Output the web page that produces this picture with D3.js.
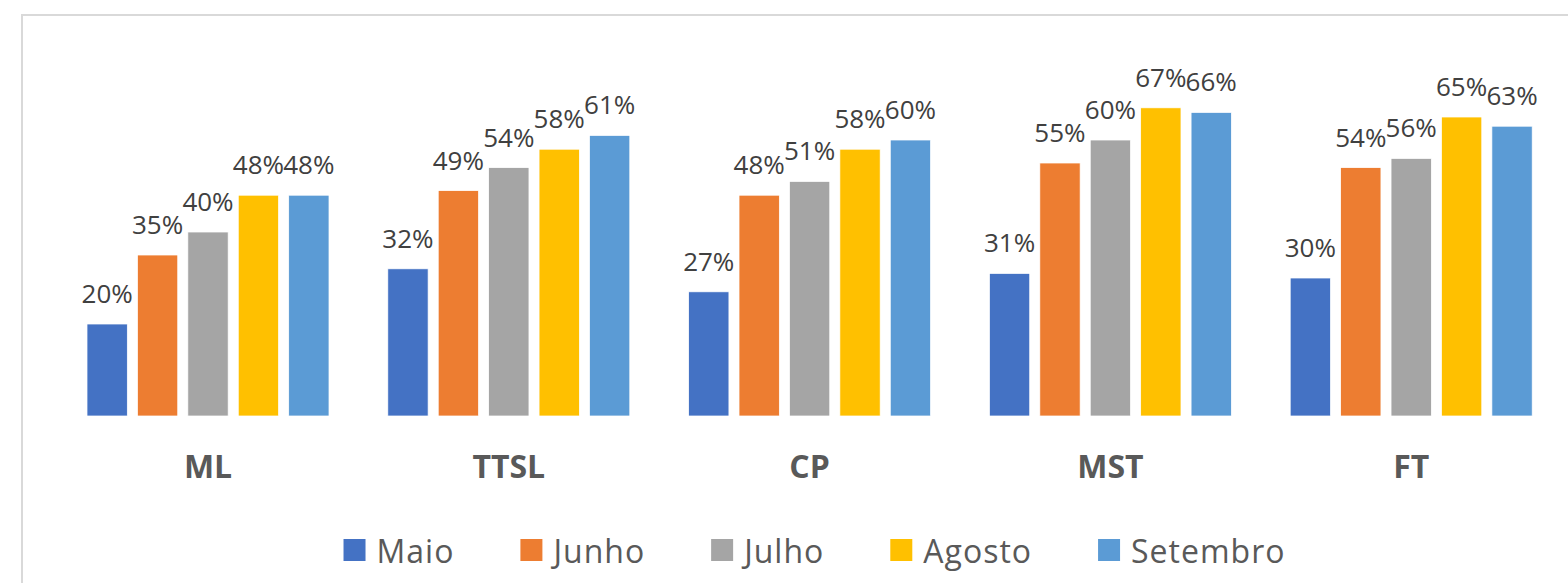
<!DOCTYPE html>
<html>
<head>
<meta charset="utf-8">
<script src="https://cdnjs.cloudflare.com/ajax/libs/d3/7.8.5/d3.min.js"></script>
<style>
  body { margin: 0; background: #fff; }
  svg { display: block; font-family: "Open Sans", "DejaVu Sans", sans-serif; }
</style>
</head>
<body>
<div id="chart"></div>
<script>
// chart data
var categories = ["ML", "TTSL", "CP", "MST", "FT"];
var months = ["Maio", "Junho", "Julho", "Agosto", "Setembro"];
var maio     = [0.20, 0.32, 0.27, 0.31, 0.30];
var junho    = [0.35, 0.49, 0.48, 0.55, 0.54];
var julho    = [0.40, 0.54, 0.51, 0.60, 0.56];
var agosto   = [0.48, 0.58, 0.58, 0.67, 0.65];
var setembro = [0.48, 0.61, 0.60, 0.66, 0.63];
var colors = ["#4472C4", "#ED7D31", "#A5A5A5", "#FFC000", "#5B9BD5"];

var series = [maio, junho, julho, agosto, setembro];

function drawChart() {
    var width = 1568, height = 583;
    var svg = d3.select("#chart").append("svg")
        .attr("width", width)
        .attr("height", height);

    // outer chart border (runs off right and bottom)
    svg.append("rect")
        .attr("x", 22).attr("y", 15)
        .attr("width", 1600).attr("height", 620)
        .attr("fill", "none")
        .attr("stroke", "#d9d9d9")
        .attr("stroke-width", 2);

    //scales
    var x0 = d3.scaleBand()
        .domain(categories)
        .range([57.6, 1561.6]);

    var x1 = d3.scaleBand()
        .domain(months)
        .range([0, x0.bandwidth()])
        .paddingInner(0.2)
        .paddingOuter(0.583);

    var y = d3.scaleLinear()
        .domain([0, 0.7])
        .range([416, 416 - 0.7 * 460]);

    var fmt = d3.format(".0%");

    // flatten to rows
    var rows = [];
    categories.forEach(function (c, i) {
        months.forEach(function (m, j) {
            rows.push({cat: c, month: m, idx: j, value: series[j][i]});
        });
    });

    //draw bars
    svg.append("g").selectAll("rect")
        .data(rows)
        .enter().append("rect")
        .attr("x", function (d) { return x0(d.cat) + x1(d.month); })
        .attr("y", function (d) { return y(d.value); })
        .attr("width", x1.bandwidth())
        .attr("height", function (d) { return y(0) - y(d.value); })
        .attr("fill", function (d) { return colors[d.idx]; })
        .attr("stroke", "#fff")
        .attr("stroke-width", 0.75);

    //data labels
    svg.append("g").selectAll("text")
        .data(rows)
        .enter().append("text")
        .attr("x", function (d) { return x0(d.cat) + x1(d.month) + x1.bandwidth() / 2; })
        .attr("y", function (d) { return y(d.value) - 21; })
        .attr("text-anchor", "middle")
        .attr("fill", "#404040")
        .attr("font-size", 26)
        .text(function (d) { return fmt(d.value); });

    // category axis labels
    var xAxis = d3.axisBottom(x0).tickSize(0).tickPadding(0);
    var axisG = svg.append("g")
        .attr("transform", "translate(0," + 478 + ")")
        .call(xAxis);
    axisG.select(".domain").remove();
    axisG.selectAll("text")
        .attr("dy", 0)
        .attr("y", 0)
        .attr("font-family", "'Open Sans', sans-serif")
        .attr("font-size", 32)
        .attr("font-weight", "bold")
        .attr("fill", "#595959");

    //legend
    var legend = svg.append("g");
    var items = legend.selectAll("g")
        .data(months)
        .enter().append("g");
    items.append("rect")
        .attr("width", 22).attr("height", 22)
        .attr("y", 539)
        .attr("fill", function (d, i) { return colors[i]; });
    items.append("text")
        .attr("x", 33)
        .attr("y", 563)
        .attr("font-size", 32)
        .attr("letter-spacing", 1)
        .attr("fill", "#595959")
        .text(function (d) { return d; });

    var pos = 0;
    items.each(function () {
        var g = d3.select(this);
        g.attr("transform", "translate(" + pos + ",0)");
        pos += 33 + g.select("text").node().getComputedTextLength() + 66;
    });
    var total = pos - 66;
    legend.attr("transform", "translate(" + (814.5 - total / 2) + ",0)");
}

drawChart();
</script>
</body>
</html>
